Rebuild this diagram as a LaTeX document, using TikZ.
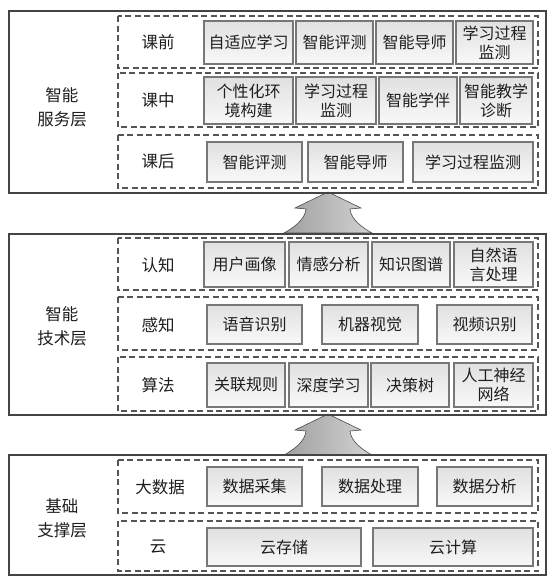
\documentclass[tikz,border=0pt]{standalone}
\usepackage{fontspec}
\newfontfamily\cjk{Noto Sans CJK SC}
\usetikzlibrary{shapes.misc}
\definecolor{txt}{HTML}{1E1E1E}
\definecolor{outerline}{HTML}{444444}
\definecolor{dashline}{HTML}{555555}
\definecolor{itemline}{HTML}{777777}
\tikzset{
  layerbox/.style={draw=outerline, line width=1.4pt},
  rowbox/.style={draw=dashline, line width=1.6pt, dash pattern=on 6pt off 3.5pt},
  item/.style={draw=itemline, line width=1.5pt, top color=gray!24, bottom color=gray!5,
    inner sep=0pt, align=center, text=txt, font=\cjk\fontsize{16}{19}\selectfont},
  rowlabel/.style={text=txt, font=\cjk\fontsize{16.5}{20}\selectfont},
  layerlabel/.style={text=txt, align=center, font=\cjk\fontsize{16.5}{24}\selectfont},
  uparrow/.style={draw=gray!60!black, line width=0.6pt, left color=gray!75, right color=gray!35}
}
\newcommand{\mkitem}[6]{%
  \node[item, minimum width={(#4-#2)*1pt}, minimum height={(#5-#3)*1pt}] (#1) at ({(#2+#4)/2},{(#3+#5)/2}) {#6};}
\newcommand{\mkarrow}[3]{% name, top y, base y
  \path[uparrow] (328,#2) -- (361,#2+16) -- (350,#2+17)
     .. controls (351,#2+28) and (363,#2+36) .. (372,#3)
     -- (284,#3)
     .. controls (293,#2+36) and (305,#2+28) .. (306,#2+17)
     -- (295,#2+16) -- cycle;
  \coordinate (#1) at (328,#2);}
\begin{document}
\begin{tikzpicture}[x=1pt,y=-1pt]
\useasboundingbox (0,0) rectangle (548,576);
\fill[white] (0,0) rectangle (548,576);

% arrows (behind boxes)
\mkarrow{arrA}{192}{233}
\mkarrow{arrB}{414}{455}

% ---------- layer 1 ----------
\draw[layerbox] (9,11) rectangle (546,193);
\node[layerlabel] (L1) at (62,107) {智能\\服务层};
\draw[rowbox] (118,16) rectangle (538,68);
\draw[rowbox] (118,73) rectangle (538,127);
\draw[rowbox] (118,135) rectangle (538,188);
\node[rowlabel] (r11) at (158,42) {课前};
\node[rowlabel] (r12) at (158,100) {课中};
\node[rowlabel] (r13) at (158,161) {课后};
\mkitem{a1}{204}{21}{293}{64}{自适应学习}
\mkitem{a2}{296}{21}{373}{64}{智能评测}
\mkitem{a3}{376}{21}{453}{64}{智能导师}
\mkitem{a4}{456}{21}{533}{64}{学习过程\\监测}
\mkitem{b1}{204}{77}{293}{124}{个性化环\\境构建}
\mkitem{b2}{296}{77}{376}{124}{学习过程\\监测}
\mkitem{b3}{379}{77}{457}{124}{智能学伴}
\mkitem{b4}{460}{77}{532}{124}{智能教学\\诊断}
\mkitem{c1}{207}{142}{302}{182}{智能评测}
\mkitem{c2}{308}{142}{403}{182}{智能导师}
\mkitem{c3}{413}{142}{533}{182}{学习过程监测}

% ---------- layer 2 ----------
\draw[layerbox] (9,234) rectangle (546,415);
\node[layerlabel] (L2) at (62,326) {智能\\技术层};
\draw[rowbox] (118,238) rectangle (538,290);
\draw[rowbox] (118,297) rectangle (538,350);
\draw[rowbox] (118,357) rectangle (538,411);
\node[rowlabel] (r21) at (158,265) {认知};
\node[rowlabel] (r22) at (158,325) {感知};
\node[rowlabel] (r23) at (158,385) {算法};
\mkitem{d1}{204}{242}{285}{287}{用户画像}
\mkitem{d2}{289}{242}{368}{287}{情感分析}
\mkitem{d3}{372}{242}{450}{287}{知识图谱}
\mkitem{d4}{454}{242}{533}{287}{自然语\\言处理}
\mkitem{e1}{207}{305}{302}{344}{语音识别}
\mkitem{e2}{322}{305}{418}{344}{机器视觉}
\mkitem{e3}{437}{305}{532}{344}{视频识别}
\mkitem{f1}{207}{363}{285}{407}{关联规则}
\mkitem{f2}{289}{363}{368}{407}{深度学习}
\mkitem{f3}{371}{363}{449}{407}{决策树}
\mkitem{f4}{454}{363}{533}{407}{人工神经\\网络}

% ---------- layer 3 ----------
\draw[layerbox] (9,455) rectangle (546,575);
\node[layerlabel] (L3) at (62,518) {基础\\支撑层};
\draw[rowbox] (118,460) rectangle (538,513);
\draw[rowbox] (118,521) rectangle (538,571);
\node[rowlabel] (r31) at (160,487) {大数据};
\node[rowlabel] (r32) at (158,547) {云};
\mkitem{g1}{207}{467}{302}{506}{数据采集}
\mkitem{g2}{322}{467}{418}{506}{数据处理}
\mkitem{g3}{437}{467}{532}{506}{数据分析}
\mkitem{h1}{207}{528}{361}{566}{云存储}
\mkitem{h2}{373}{528}{533}{566}{云计算}
\end{tikzpicture}
\end{document}
